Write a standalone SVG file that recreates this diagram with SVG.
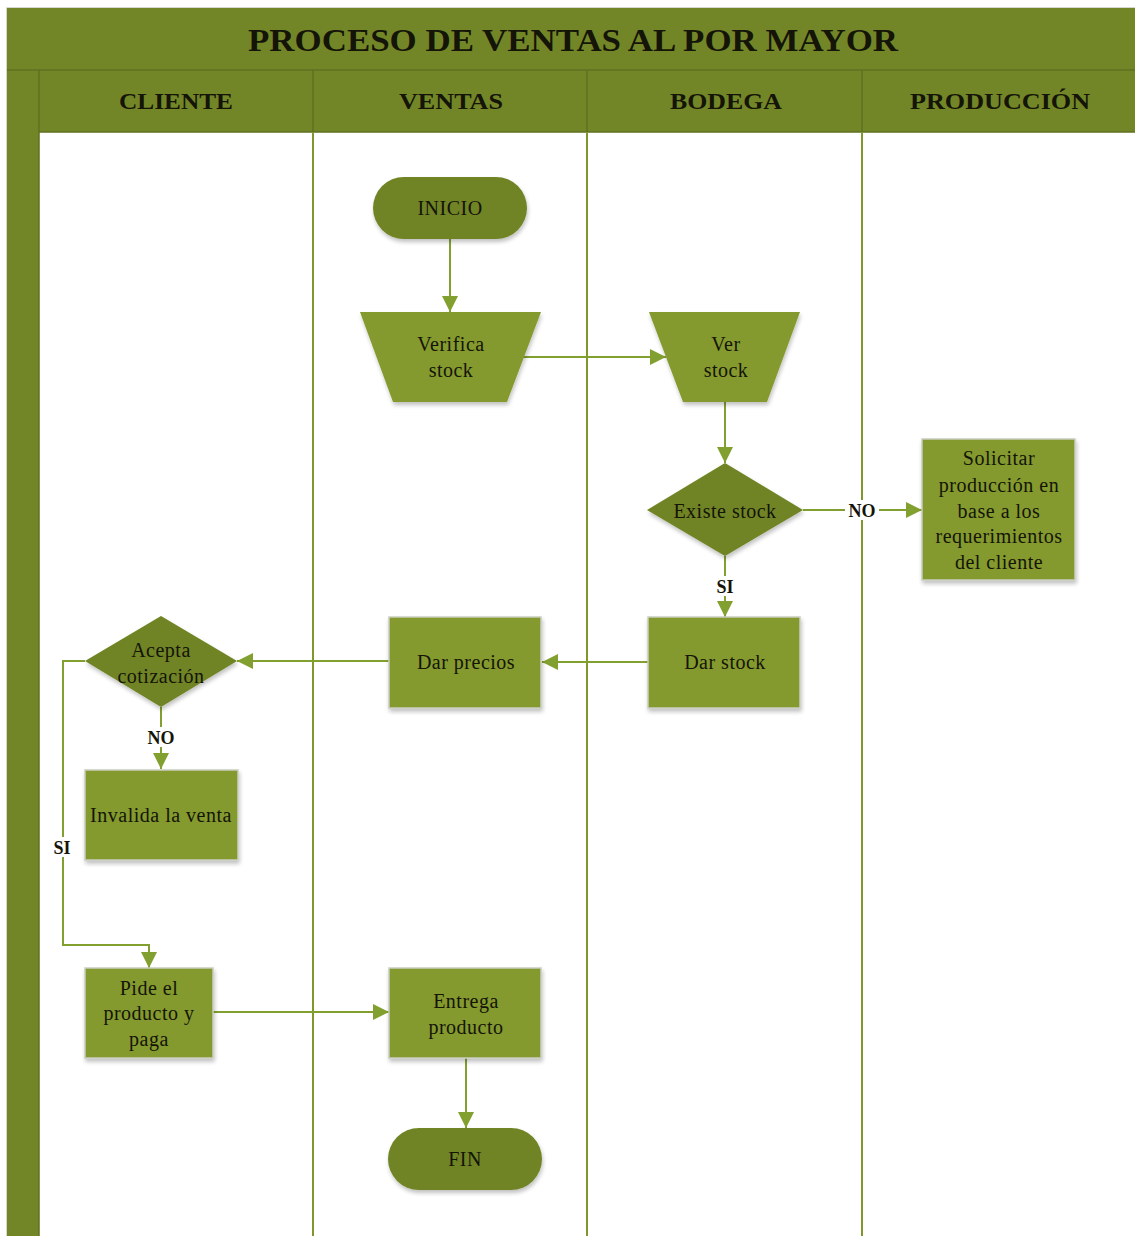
<svg xmlns="http://www.w3.org/2000/svg" width="1135" height="1236" viewBox="0 0 1135 1236">
  <defs>
    <style>
      .band { fill: #738627; }
      .hdr-line { stroke: #5f7020; stroke-width: 1.5; }
      .lane { stroke: #7f982d; stroke-width: 2; }
      .proc { fill: #849a2d; stroke: #c9cdc0; stroke-width: 1.5; filter: url(#shadow); }
      .dark { fill: #6f8425; filter: url(#shadow); }
      .trap { fill: #849a2d; filter: url(#shadow); }
      .edge { fill: none; stroke: #82a02f; stroke-width: 2; }
      .t { font-family: "Liberation Serif", "DejaVu Serif", serif; fill: #141408; text-anchor: middle; dominant-baseline: central; }
      .node { font-size: 20px; letter-spacing: 0.5px; }
      .title { font-size: 31px; font-weight: bold; }
      .head { font-size: 24px; font-weight: bold; }
      .lbl { font-size: 18px; font-weight: bold; }
    </style>
    <filter id="shadow" x="-10%" y="-10%" width="125%" height="130%">
      <feGaussianBlur in="SourceAlpha" stdDeviation="2"/>
      <feOffset dx="1" dy="3" result="b"/>
      <feComponentTransfer><feFuncA type="linear" slope="0.25"/></feComponentTransfer>
      <feMerge><feMergeNode/><feMergeNode in="SourceGraphic"/></feMerge>
    </filter>
    <marker id="arrowL" viewBox="0 0 16 16" refX="16" refY="8" markerWidth="16" markerHeight="16" markerUnits="userSpaceOnUse" orient="auto">
      <path d="M0,0 L16,8 L0,16 z" fill="#82a02f"/>
    </marker>
  </defs>

  <rect width="1135" height="1236" fill="#ffffff"/>

  <!-- swimlane frame -->
  <g id="pool">
    <rect x="7" y="8" width="1135" height="1240" fill="#ffffff" stroke="#c8ccc0" stroke-width="1.5"/>
    <rect class="band" x="7" y="8" width="1135" height="62"/>
    <rect class="band" x="7" y="70" width="32" height="1170"/>
    <rect class="band" x="39" y="70" width="1100" height="62"/>
    <line class="hdr-line" x1="7" y1="70" x2="1135" y2="70"/>
    <line class="hdr-line" x1="39" y1="70" x2="39" y2="1236"/>
    <line class="hdr-line" x1="39" y1="132" x2="1135" y2="132"/>
    <line class="hdr-line" x1="313" y1="70" x2="313" y2="132"/>
    <line class="hdr-line" x1="587" y1="70" x2="587" y2="132"/>
    <line class="hdr-line" x1="862" y1="70" x2="862" y2="132"/>
    <line class="lane" x1="313" y1="132" x2="313" y2="1236"/>
    <line class="lane" x1="587" y1="132" x2="587" y2="1236"/>
    <line class="lane" x1="862" y1="132" x2="862" y2="1236"/>
    <text class="t title" x="573" y="40" textLength="650" lengthAdjust="spacingAndGlyphs">PROCESO DE VENTAS AL POR MAYOR</text>
    <text class="t head" x="176" y="101" textLength="114" lengthAdjust="spacingAndGlyphs">CLIENTE</text>
    <text class="t head" x="451" y="101" textLength="104" lengthAdjust="spacingAndGlyphs">VENTAS</text>
    <text class="t head" x="726" y="101" textLength="112" lengthAdjust="spacingAndGlyphs">BODEGA</text>
    <text class="t head" x="1000" y="101" textLength="180" lengthAdjust="spacingAndGlyphs">PRODUCCIÓN</text>
  </g>

  <!-- connectors -->
  <g id="connectors">
    <line class="edge" x1="450" y1="239" x2="450" y2="312" marker-end="url(#arrowL)"/>
    <line class="edge" x1="522" y1="357" x2="666" y2="357" marker-end="url(#arrowL)"/>
    <line class="edge" x1="725" y1="402" x2="725" y2="463" marker-end="url(#arrowL)"/>
    <line class="edge" x1="803" y1="510" x2="922" y2="510" marker-end="url(#arrowL)"/>
    <line class="edge" x1="725" y1="556" x2="725" y2="617" marker-end="url(#arrowL)"/>
    <line class="edge" x1="648" y1="662" x2="542" y2="662" marker-end="url(#arrowL)"/>
    <line class="edge" x1="389" y1="661" x2="237" y2="661" marker-end="url(#arrowL)"/>
    <line class="edge" x1="161" y1="707" x2="161" y2="769" marker-end="url(#arrowL)"/>
    <polyline class="edge" points="85,661 63,661 63,945 149,945 149,968" marker-end="url(#arrowL)"/>
    <line class="edge" x1="213" y1="1012" x2="389" y2="1012" marker-end="url(#arrowL)"/>
    <line class="edge" x1="466" y1="1058" x2="466" y2="1128" marker-end="url(#arrowL)"/>
    <!-- edge labels -->
    <rect x="845" y="500" width="34" height="20" fill="#ffffff"/>
    <text class="t lbl" x="862" y="511">NO</text>
    <rect x="714" y="576" width="22" height="20" fill="#ffffff"/>
    <text class="t lbl" x="725" y="587">SI</text>
    <rect x="144" y="727" width="34" height="20" fill="#ffffff"/>
    <text class="t lbl" x="161" y="738">NO</text>
    <rect x="51" y="837" width="24" height="20" fill="#ffffff"/>
    <text class="t lbl" x="62" y="848">SI</text>
  </g>

  <g id="inicio">
    <rect class="dark" x="373" y="177" width="154" height="62" rx="31"/>
    <text class="t node" x="450" y="208">INICIO</text>
  </g>

  <g id="verifica-stock">
    <polygon class="trap" points="360,312 541,312 507,402 393,402"/>
    <text class="t node" x="451" y="344">Verifica</text>
    <text class="t node" x="451" y="370">stock</text>
  </g>

  <g id="ver-stock">
    <polygon class="trap" points="649,312 800,312 767,402 683,402"/>
    <text class="t node" x="726" y="344">Ver</text>
    <text class="t node" x="726" y="370">stock</text>
  </g>

  <g id="existe-stock">
    <polygon class="dark" points="725,463 803,510 725,556 647,510"/>
    <text class="t node" x="725" y="511">Existe stock</text>
  </g>

  <g id="solicitar-produccion">
    <rect class="proc" x="922" y="439" width="153" height="141"/>
    <text class="t node" x="999" y="458">Solicitar</text>
    <text class="t node" x="999" y="485">producción en</text>
    <text class="t node" x="999" y="511">base a los</text>
    <text class="t node" x="999" y="536">requerimientos</text>
    <text class="t node" x="999" y="562">del cliente</text>
  </g>

  <g id="dar-stock">
    <rect class="proc" x="648" y="617" width="152" height="91"/>
    <text class="t node" x="725" y="662">Dar stock</text>
  </g>

  <g id="dar-precios">
    <rect class="proc" x="389" y="617" width="152" height="91"/>
    <text class="t node" x="466" y="662">Dar precios</text>
  </g>

  <g id="acepta-cotizacion">
    <polygon class="dark" points="161,616 237,661 161,707 85,661"/>
    <text class="t node" x="161" y="650">Acepta</text>
    <text class="t node" x="161" y="676">cotización</text>
  </g>

  <g id="invalida-venta">
    <rect class="proc" x="85" y="770" width="153" height="90"/>
    <text class="t node" x="161" y="815">Invalida la venta</text>
  </g>

  <g id="pide-producto">
    <rect class="proc" x="85" y="968" width="128" height="90"/>
    <text class="t node" x="149" y="988">Pide el</text>
    <text class="t node" x="149" y="1013">producto y</text>
    <text class="t node" x="149" y="1039">paga</text>
  </g>

  <g id="entrega-producto">
    <rect class="proc" x="389" y="968" width="152" height="90"/>
    <text class="t node" x="466" y="1001">Entrega</text>
    <text class="t node" x="466" y="1027">producto</text>
  </g>

  <g id="fin">
    <rect class="dark" x="388" y="1128" width="154" height="62" rx="31"/>
    <text class="t node" x="465" y="1159">FIN</text>
  </g>
</svg>
